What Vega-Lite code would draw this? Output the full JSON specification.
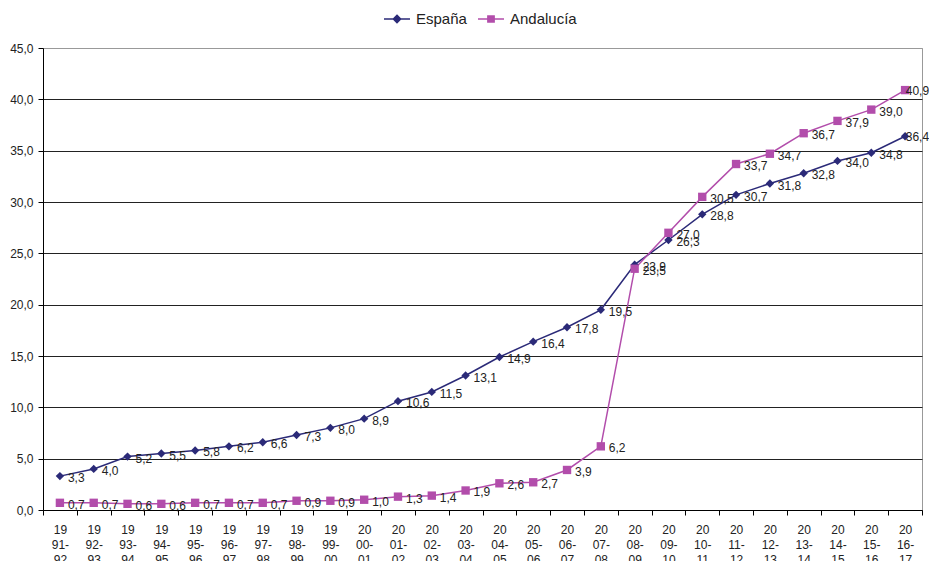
{
  "$schema": "https://vega.github.io/schema/vega-lite/v6.json",
  "width": 879,
  "height": 462,
  "autosize": {"type": "none"},
  "padding": {"left": 43, "top": 48, "right": 7, "bottom": 51},
  "background": "white",
  "config": {
    "font": "Liberation Sans",
    "view": {"stroke": "#999", "strokeWidth": 1},
    "axis": {"labelFont": "Liberation Sans", "labelColor": "#222", "labelFontSize": 12}
  },
  "data": {"values": [
    {"p":"19|91-|92","s":"España","v":3.3},{"p":"19|92-|93","s":"España","v":4.0},{"p":"19|93-|94","s":"España","v":5.2},{"p":"19|94-|95","s":"España","v":5.5},{"p":"19|95-|96","s":"España","v":5.8},{"p":"19|96-|97","s":"España","v":6.2},{"p":"19|97-|98","s":"España","v":6.6},{"p":"19|98-|99","s":"España","v":7.3},{"p":"19|99-|00","s":"España","v":8.0},{"p":"20|00-|01","s":"España","v":8.9},{"p":"20|01-|02","s":"España","v":10.6},{"p":"20|02-|03","s":"España","v":11.5},{"p":"20|03-|04","s":"España","v":13.1},{"p":"20|04-|05","s":"España","v":14.9},{"p":"20|05-|06","s":"España","v":16.4},{"p":"20|06-|07","s":"España","v":17.8},{"p":"20|07-|08","s":"España","v":19.5},{"p":"20|08-|09","s":"España","v":23.9},{"p":"20|09-|10","s":"España","v":26.3},{"p":"20|10-|11","s":"España","v":28.8},{"p":"20|11-|12","s":"España","v":30.7},{"p":"20|12-|13","s":"España","v":31.8},{"p":"20|13-|14","s":"España","v":32.8},{"p":"20|14-|15","s":"España","v":34.0},{"p":"20|15-|16","s":"España","v":34.8},{"p":"20|16-|17","s":"España","v":36.4},
    {"p":"19|91-|92","s":"Andalucía","v":0.7},{"p":"19|92-|93","s":"Andalucía","v":0.7},{"p":"19|93-|94","s":"Andalucía","v":0.6},{"p":"19|94-|95","s":"Andalucía","v":0.6},{"p":"19|95-|96","s":"Andalucía","v":0.7},{"p":"19|96-|97","s":"Andalucía","v":0.7},{"p":"19|97-|98","s":"Andalucía","v":0.7},{"p":"19|98-|99","s":"Andalucía","v":0.9},{"p":"19|99-|00","s":"Andalucía","v":0.9},{"p":"20|00-|01","s":"Andalucía","v":1.0},{"p":"20|01-|02","s":"Andalucía","v":1.3},{"p":"20|02-|03","s":"Andalucía","v":1.4},{"p":"20|03-|04","s":"Andalucía","v":1.9},{"p":"20|04-|05","s":"Andalucía","v":2.6},{"p":"20|05-|06","s":"Andalucía","v":2.7},{"p":"20|06-|07","s":"Andalucía","v":3.9},{"p":"20|07-|08","s":"Andalucía","v":6.2},{"p":"20|08-|09","s":"Andalucía","v":23.5},{"p":"20|09-|10","s":"Andalucía","v":27.0},{"p":"20|10-|11","s":"Andalucía","v":30.5},{"p":"20|11-|12","s":"Andalucía","v":33.7},{"p":"20|12-|13","s":"Andalucía","v":34.7},{"p":"20|13-|14","s":"Andalucía","v":36.7},{"p":"20|14-|15","s":"Andalucía","v":37.9},{"p":"20|15-|16","s":"Andalucía","v":39.0},{"p":"20|16-|17","s":"Andalucía","v":40.9}
  ]},
  "encoding": {
    "x": {"field": "p", "type": "nominal", "sort": null, "title": null,
      "scale": {"type": "band", "paddingInner": 0, "paddingOuter": 0},
      "axis": {"labelAngle": 0, "labelExpr": "split(datum.label, '|')", "labelLineHeight": 15, "labelPadding": 9, "labelBaseline": "top",
        "domainColor": "#000", "tickColor": "#000", "tickSize": 5, "tickBand": "extent", "grid": false}},
    "y": {"field": "v", "type": "quantitative", "title": null,
      "scale": {"domain": [0, 45], "nice": false},
      "axis": {"values": [0,5,10,15,20,25,30,35,40,45], "labelExpr": "replace(format(datum.value, '.1f'), '.', ',')",
        "domainColor": "#000", "tickColor": "#000", "tickSize": 5, "labelPadding": 5,
        "gridColor": {"condition": {"test": "datum.value == 45", "value": "#999"}, "value": "#222"}, "gridWidth": 1}}
  },
  "layer": [
    {"mark": {"type": "line", "strokeWidth": 1.5},
     "encoding": {"color": {"field": "s", "type": "nominal",
       "scale": {"domain": ["España", "Andalucía"], "range": ["#2B2A78", "#B24DAB"]},
       "legend": {"title": null, "orient": "none", "direction": "horizontal", "legendX": 340, "legendY": -43,
         "labelFontSize": 15, "labelColor": "#222", "labelFont": "Liberation Sans", "symbolSize": 676, "symbolStrokeWidth": 1.5,
         "columnPadding": 8, "labelOffset": 5, "padding": 0,
         "encode": {"symbols": {"update": {
           "shape": {"signal": "datum.value === 'España' ? 'M-1,0H1M0,-0.28L0.28,0L0,0.28L-0.28,0Z' : 'M-1,0H1M-0.24,-0.24H0.24V0.24H-0.24Z'"},
           "fill": {"signal": "datum.value === 'España' ? '#2B2A78' : '#B24DAB'"},
           "fillOpacity": {"value": 1}}}}}}}},
    {"transform": [{"filter": "datum.s === 'España'"}],
     "mark": {"type": "point", "shape": "diamond", "filled": true, "opacity": 1, "size": 70, "color": "#2B2A78"}},
    {"transform": [{"filter": "datum.s === 'Andalucía'"}],
     "mark": {"type": "point", "shape": "square", "filled": true, "opacity": 1, "size": 70, "color": "#B24DAB"}},
    {"transform": [{"filter": "datum.p !== '20|16-|17'"}, {"calculate": "replace(format(datum.v, '.1f'), '.', ',')", "as": "lbl"}],
     "mark": {"type": "text", "align": "left", "baseline": "middle", "dx": 8, "dy": 2, "fontSize": 12, "color": "#222", "font": "Liberation Sans"},
     "encoding": {"text": {"field": "lbl"}}},
    {"transform": [{"filter": "datum.p === '20|16-|17'"}, {"calculate": "replace(format(datum.v, '.1f'), '.', ',')", "as": "lbl"}],
     "mark": {"type": "text", "align": "right", "baseline": "middle", "dx": 24, "dy": 1, "fontSize": 12, "color": "#222", "font": "Liberation Sans"},
     "encoding": {"text": {"field": "lbl"}}}
  ]
}
